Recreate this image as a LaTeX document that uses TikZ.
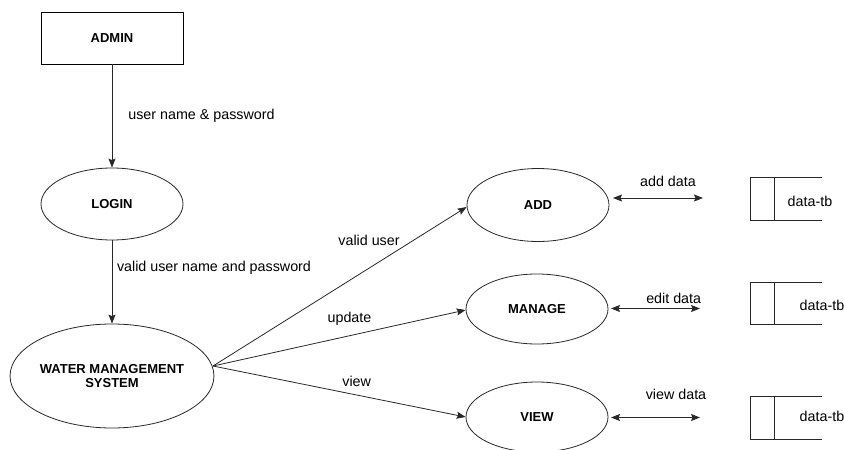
\documentclass[tikz,border=0pt]{standalone}
\usepackage{fontspec}
\setmainfont{Liberation Sans}
\usetikzlibrary{arrows.meta,shapes.geometric}
\definecolor{lc}{RGB}{40,40,40}
\begin{document}
\begin{tikzpicture}[x=1pt,y=-1pt,
  lbl/.style={font=\fontsize{14.3}{17}\selectfont, inner sep=0pt, text height=0.8em, text depth=0.2em},
  entity/.style={rectangle, draw=black, line width=0.8pt, minimum width=142pt, minimum height=52pt, inner sep=0pt, font=\fontsize{13}{14}\selectfont\bfseries},
  proc/.style={ellipse, draw=lc, line width=0.8pt, minimum width=142pt, minimum height=72pt, inner sep=0pt, font=\fontsize{13}{14}\selectfont\bfseries, align=center},
  storebox/.style={rectangle, minimum width=71pt, minimum height=42pt, inner sep=0pt},
  storeline/.style={draw=lc, line width=0.8pt},
  flow/.style={draw=lc, line width=0.8pt, -{Stealth[length=9pt,width=7pt,inset=1.5pt]}},
  bidir/.style={draw=lc, line width=0.8pt, {Stealth[length=9pt,width=7pt,inset=1.5pt]}-{Stealth[length=9pt,width=7pt,inset=1.5pt]}}
]
\useasboundingbox (0,0) rectangle (844,450);

% nodes
\node[entity] (admin) at (112,38) {ADMIN};
\node[proc] (login) at (112,204) {LOGIN};
\node[proc, minimum width=203pt, minimum height=104pt] (wms) at (112,376) {WATER MANAGEMENT\\SYSTEM};
\node[proc, minimum height=73pt] (add) at (538,205) {ADD};
\node[proc, minimum height=70pt] (manage) at (537,309) {MANAGE};
\node[proc, minimum height=70pt] (view) at (537,417) {VIEW};

% data stores
\node[storebox] (s1) at (786.5,199) {};
\node[storebox] (s2) at (786.5,303.5) {};
\node[storebox] (s3) at (786.5,418) {};
\foreach \s in {s1,s2,s3}{
  \draw[storeline] (\s.north east) -- (\s.north west) -- (\s.south west) -- (\s.south east);
  \draw[storeline] ([xshift=23.5pt]\s.north west) -- ([xshift=23.5pt]\s.south west);
}
\node[lbl] (t1) at (810,203) {data-tb};
\node[lbl] (t2) at (822,307) {data-tb};
\node[lbl] (t3) at (822,418) {data-tb};

% main flows
\draw[flow] (admin) -- (login);
\draw[flow] (login) -- (wms);
\coordinate (wout) at (213,366);
\draw[flow] (wout) -- ([yshift=-2pt]add.west);
\draw[flow] (wout) -- ([yshift=-1pt]manage.west);
\draw[flow] (wout) -- (view.west);

% data flows
\coordinate (aL) at (613,198); \coordinate (aR) at (703,198);
\coordinate (eL) at (611,308.5); \coordinate (eR) at (700,308.5);
\coordinate (vL) at (611,417.5); \coordinate (vR) at (700,417.5);
\draw[bidir] (aL) -- (aR);
\draw[bidir] (eL) -- (eR);
\draw[bidir] (vL) -- (vR);

% labels
\node[lbl] (l1) at (201.5,116) {user name \& password};
\node[lbl] (l2) at (214,268) {valid user name and password};
\node[lbl] (l3) at (369,242.5) {valid user};
\node[lbl] (l4) at (349.5,319) {update};
\node[lbl] (l5) at (356.7,383) {view};
\node[lbl] (l6) at (668,183) {add data};
\node[lbl] (l7) at (673.7,300.5) {edit data};
\node[lbl] (l8) at (676,396.7) {view data};
\end{tikzpicture}
\end{document}
